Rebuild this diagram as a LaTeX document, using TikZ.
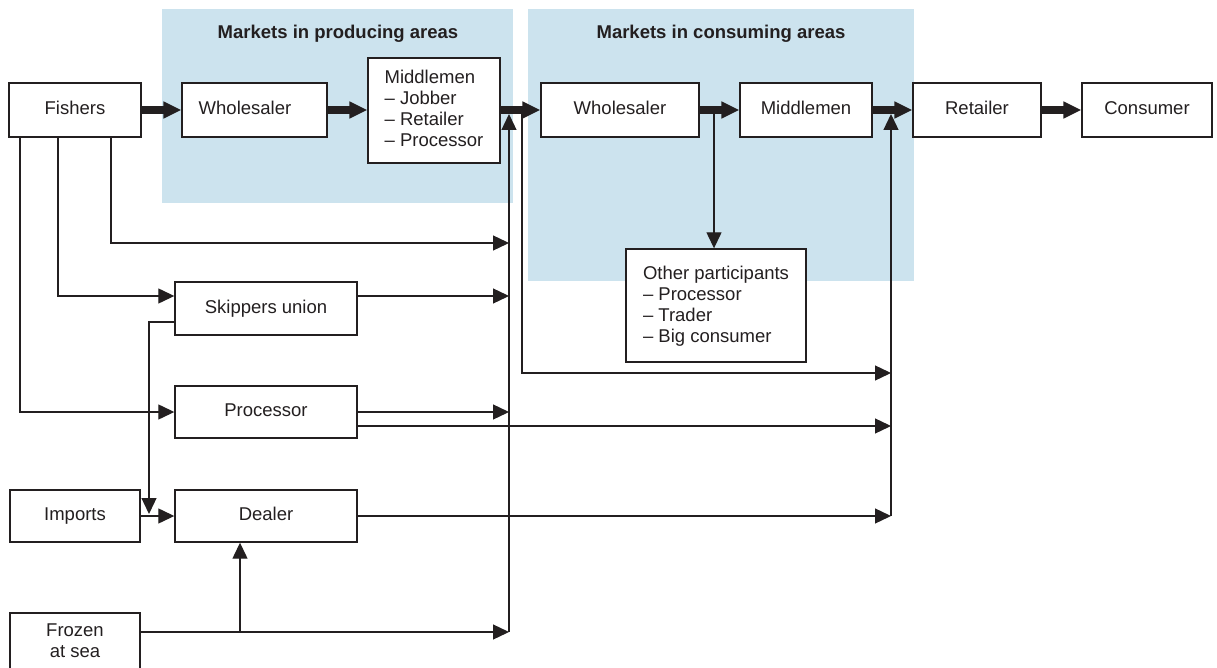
\documentclass[tikz,border=0pt]{standalone}
\usepackage{fontspec}
\setmainfont{Liberation Sans}
\usetikzlibrary{arrows.meta,calc}
\definecolor{ink}{RGB}{35,31,32}
\definecolor{mkt}{RGB}{204,227,238}
\begin{document}
\begin{tikzpicture}[x=1pt,y=-1pt,
  box/.style={draw=ink, line width=1.4pt, fill=white, inner sep=0pt, text=ink,
    font=\fontsize{18.5}{21}\selectfont},
  one/.style={box, text height=13.5pt, text depth=3.9pt},
  link/.style={draw=ink, line width=1.3pt, -{Triangle[length=16pt,width=15pt]}},
  flow/.style={draw=ink, line width=7.5pt, -{Triangle[length=18pt,width=16pt]}},
  area/.style={fill=mkt, draw=none},
  areatitle/.style={font=\fontsize{18.5}{21}\selectfont\bfseries, text=ink}]
\useasboundingbox (0,0) rectangle (1217,668);
\clip (0,0) rectangle (1217,668);
% market areas
\fill[area] (162,9) rectangle (513,203);
\fill[area] (528,9) rectangle (914,281);
\node[areatitle] (tprod) at (338,34) {Markets in producing areas};
\node[areatitle] (tcons) at (721,34) {Markets in consuming areas};
% boxes
\node[one, minimum width=132pt, minimum height=54pt] (fish) at (75,110) {Fishers};
\node[one, minimum width=145pt, minimum height=54pt] (wp) at (254.5,110) {Wholesaler\hspace*{19pt}};
\node[box, minimum width=132pt, minimum height=105pt, align=left, text depth=3.5pt] (mp) at (434,110.5)
  {Middlemen\\– Jobber\\– Retailer\\– Processor};
\node[one, minimum width=158pt, minimum height=54pt] (wc) at (620,110) {Wholesaler};
\node[one, minimum width=132pt, minimum height=54pt] (mc) at (806,110) {Middlemen};
\node[one, minimum width=128pt, minimum height=54pt] (ret) at (977,110) {Retailer};
\node[one, minimum width=130pt, minimum height=54pt] (con) at (1147,110) {Consumer};
\node[box, minimum width=180pt, minimum height=113pt, align=left, text depth=2pt] (oth) at (716,305.5)
  {Other participants\\– Processor\\– Trader\\– Big consumer};
\node[one, minimum width=182pt, minimum height=53pt] (sk) at (266,308.5) {Skippers union};
\node[one, minimum width=182pt, minimum height=52pt] (pr) at (266,412) {Processor};
\node[one, minimum width=130pt, minimum height=52pt] (imp) at (75,516) {Imports};
\node[one, minimum width=182pt, minimum height=52pt] (dl) at (266,516) {Dealer};
\node[box, minimum width=130pt, minimum height=70pt, align=center, text depth=14.5pt] (fr) at (75,648)
  {Frozen\\at sea};
% junction points
\coordinate (b1) at (509,243);
\coordinate (b2) at (509,296);
\coordinate (b3) at (509,412);
\coordinate (b4) at (509,632);
\coordinate (btop) at (509,114);
\coordinate (ctop) at (522,112);
\coordinate (r2) at (891,373);
\coordinate (r3) at (891,426);
\coordinate (r4) at (891,516);
\coordinate (rtop) at (891,114);
\coordinate (skd) at (149,514);
\coordinate (dj) at (240,632);
\coordinate (wd) at (714,112);
% main flow
\draw[flow] (fish.east) -- (wp.west);
\draw[flow] (wp.east) -- (mp.west |- wp.east);
\draw[flow] (mp.east |- wc.west) -- (wc.west);
\draw[flow] (wc.east) -- (mc.west);
\draw[flow] (mc.east) -- (ret.west);
\draw[flow] (ret.east) -- (con.west);
% thin links
\draw[link] ([xshift=36pt]fish.south) |- (b1);
\draw[link] ([xshift=-17pt]fish.south) |- ([yshift=12.5pt]sk.west);
\draw[link] ([xshift=-55pt]fish.south) |- (pr.west);
\draw[link] ([yshift=12.5pt]sk.east) -- (b2);
\draw[link] ([yshift=-13.5pt]sk.west) -| (skd);
\draw[link] (imp.east) -- (dl.west);
\draw[link] (pr.east) -- (b3);
\draw[link] ([yshift=-14pt]pr.east) -- (r3);
\draw[link] (dl.east) -- (r4);
\draw[link] (fr.east |- b4) -- (b4);
\draw[link] (dj) -- (dj |- dl.south);
\draw[link] (b4) -- (btop);
\draw[link] (ctop) |- (r2);
\draw[link] (r4) -- (rtop);
\draw[link] (wd) -- (wd |- oth.north);
\end{tikzpicture}
\end{document}
